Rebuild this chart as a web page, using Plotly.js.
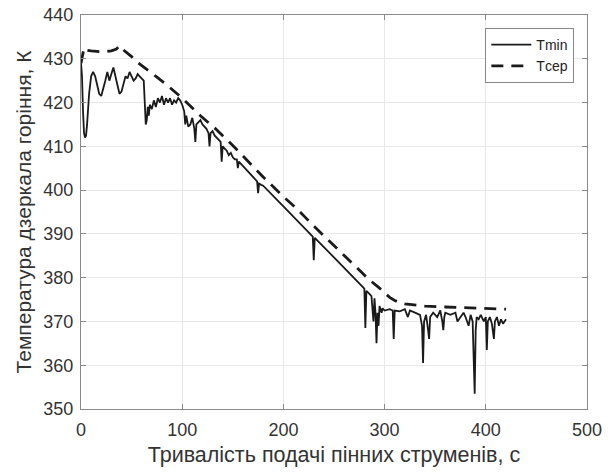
<!DOCTYPE html>
<html><head><meta charset="utf-8">
<script src="https://cdn.plot.ly/plotly-3.0.1.min.js"></script>
<style>html,body{margin:0;padding:0;background:#fff}#c{width:614px;height:472px}</style>
</head><body><div id="c"></div>
<script>
const tminT = [0,1,2,3,4,5,6,8,10,12,14,16,18,20,22,24,26,28,30,32,34,36,38,40,42,44,46,48,50,52,54,56,58,60,62,63,64,65,66,67,68,70,72,74,76,78,80,82,84,86,88,90,92,94,96,98,100,102,103,104,106,108,110,112,113,114,116,118,120,122,124,126,127,128,130,132,134,136,138,139,140,142,144,146,148,150,152,154,155,156,158,160,162,164,166,168,170,172,174,175,176,178,180,200,220,229,230,231,240,260,278,280,281,282,285,287,289,290,291,292,293,294,295,297,298,300,305,308,309,310,315,320,323,325,330,335,337,338,339,341,343,344,345,348,352,355,357,358,359,360,365,370,372,375,378,380,383,385,387,389,390,391,393,395,398,400,401,402,404,406,408,409,411,413,415,417,419,420];
const tminV = [429,426,418,413,412,412.5,415,422,426,427,426,424,422,421.5,423,425,427,425,426.5,428,426,424,422,422.5,424,426,425.5,427,426,425,425.5,426.5,426,425.5,425,420,415,416,419,417,419.5,418.5,420.5,419,421,420,421.5,419.5,421,420,421,419.5,420.5,420,421,420.5,419.5,418,415,417,414.5,415,416.5,414,411,415,415.5,416,415,414.5,414,413,410,413,413.5,412.5,412,411.5,411,406.5,410,409.5,409,408,408.5,407.5,407,407,405,406.5,406,405.5,405,404.5,404,403.5,403,402.5,402,399.3,401.5,401.2,401,396.3,391.6,389.4,384,389.1,387,382.2,378,377.5,368.5,377,376.3,375.8,370,375.3,372,365,372,369,373.5,372,373,372.5,372.8,372.5,366,372.5,372.3,372.8,371,372.5,372,371.5,369,360.5,370,371.5,368,366,371,372,371,372.5,370,368,371,372,371.5,372,370,371,372,371,369,371.5,370,353.5,368,371,370.5,371.5,370,371,363.5,370,371,369.5,366,370,371,369,370.5,369.5,370,370.5];
const tcepT = [0,1,3,5,10,20,30,35,38,42,45,50,55,60,66,75,85,100,118,133,150,165,180,200,213,230,253,270,285,295,300,305,310,315,320,330,340,360,380,400,420];
const tcepV = [429,430,432.5,432,431.8,431.6,431.8,432.2,433,432,431.5,430.5,429.3,428.5,427.4,425.8,424,421,417,414,410.2,406.6,403,398.5,395.8,391.8,386.6,382.8,379.5,377.6,376.5,375.5,374.8,374.3,374,373.7,373.5,373.3,373.1,373,372.8];

const FONT = 'Liberation Sans, Arial, sans-serif';
const axisCommon = {
  showline:true, linecolor:'#8a8a8a', linewidth:1, mirror:'allticks',
  ticks:'inside', ticklen:5, tickcolor:'#8a8a8a', tickwidth:1,
  showgrid:true, gridcolor:'#e8e8e8', gridwidth:1, zeroline:false,
  tickfont:{family:FONT, size:18, color:'#333'},
  fixedrange:true
};
const data = [
  {x:tminT, y:tminV, type:'scatter', mode:'lines', name:'Tmin',
   line:{color:'#1a1a1a', width:1.8}},
  {x:tcepT, y:tcepV, type:'scatter', mode:'lines', name:'Tсер',
   line:{color:'#1a1a1a', width:2.8, dash:'12px,8px'}}
];
const layout = {
  width:614, height:472, paper_bgcolor:'#fff', plot_bgcolor:'#fff',
  margin:{l:81, r:27, t:15, b:63},
  showlegend:true,
  legend:{x:0.975, y:0.967, xanchor:'right', yanchor:'top', bgcolor:'#fff',
    bordercolor:'#888', borderwidth:1, itemwidth:40, tracegroupgap:0,
    font:{family:FONT, size:14, color:'#222'}},
  xaxis:Object.assign({}, axisCommon, {range:[0,500], tickvals:[0,100,200,300,400,500],
    ticklabelstandoff:4,
    title:{text:'Тривалість подачі пінних струменів, с', standoff:8,
      font:{family:FONT, size:21.5, color:'#333'}}}),
  yaxis:Object.assign({}, axisCommon, {range:[350,440], tickvals:[350,360,370,380,390,400,410,420,430,440],
    ticklabelstandoff:3,
    title:{text:'Температура дзеркала горіння, К', standoff:6,
      font:{family:FONT, size:21, color:'#333'}}})
};
Plotly.newPlot('c', data, layout, {displayModeBar:false, staticPlot:true});
</script></body></html>
